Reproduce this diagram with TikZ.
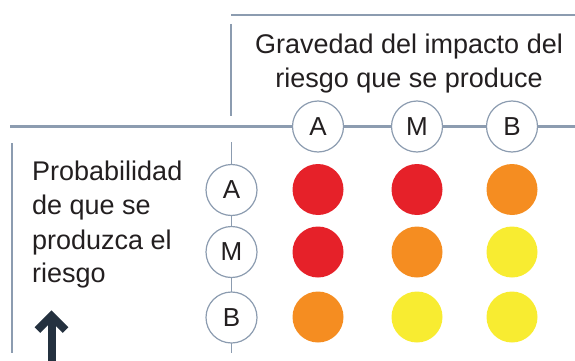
\documentclass[tikz,border=0pt]{standalone}
\usepackage{fontspec}
\setmainfont{Liberation Sans}
\definecolor{linec}{HTML}{8C9CB0}
\definecolor{txtc}{HTML}{231F20}
\definecolor{rojo}{HTML}{E62129}
\definecolor{naranja}{HTML}{F58D21}
\definecolor{amarillo}{HTML}{F8EC31}
\definecolor{flecha}{HTML}{24313F}
\tikzset{
  rule/.style={draw=linec, line width=2.6pt},
  vrule/.style={draw=linec, line width=1.6pt},
  lbl/.style={circle, draw=linec, line width=1.2pt, fill=white, minimum size=51pt, inner sep=0pt, font=\fontsize{26}{30}\selectfont, text=txtc},
  dot/.style={circle, minimum size=51pt, inner sep=0pt},
  txt/.style={inner sep=0pt, font=\fontsize{27}{33}\selectfont, text=txtc},
}
\begin{document}
\begin{tikzpicture}[x=1pt,y=-1pt]
\useasboundingbox (0,0) rectangle (575,361);
% rules
\coordinate (t1) at (231,15);
\coordinate (t2) at (575,15);
\coordinate (v1) at (231,24);
\coordinate (v2) at (231,116);
\coordinate (h1) at (10,126.5);
\coordinate (h2) at (575,126.5);
\coordinate (l1) at (12,143);
\coordinate (l2) at (12,353);
\coordinate (r1) at (231.5,142);
\coordinate (r2) at (231.5,353);
\draw[rule] (t1) -- (t2);
\draw[vrule] (v1) -- (v2);
\draw[rule] (h1) -- (h2);
\draw[vrule] (l1) -- (l2);
\draw[vrule] (r1) -- (r2);
% header text
\node[txt, anchor=base] (g1) at (409,54) {Gravedad del impacto del};
\node[txt, anchor=base] (g2) at (409,87) {riesgo que se produce};
% left text
\node[txt, anchor=base west] (p1) at (32,180) {Probabilidad};
\node[txt, anchor=base west] (p2) at (32,214) {de que se};
\node[txt, anchor=base west] (p3) at (32,249) {produzca el};
\node[txt, anchor=base west] (p4) at (32,282) {riesgo};
% column labels
\node[lbl] (cA) at (318,126.5) {A};
\node[lbl] (cM) at (417,126.5) {M};
\node[lbl] (cB) at (512,126.5) {B};
% row labels
\node[lbl] (rA) at (231.5,190) {A};
\node[lbl] (rM) at (231.5,252) {M};
\node[lbl] (rB) at (231.5,317.5) {B};
% dots
\node[dot, fill=rojo] (d11) at (318,189.5) {};
\node[dot, fill=rojo] (d12) at (417,189.5) {};
\node[dot, fill=naranja] (d13) at (512,189.5) {};
\node[dot, fill=rojo] (d21) at (318,252) {};
\node[dot, fill=naranja] (d22) at (417,252) {};
\node[dot, fill=amarillo] (d23) at (512,252) {};
\node[dot, fill=naranja] (d31) at (318,317) {};
\node[dot, fill=amarillo] (d32) at (417,317) {};
\node[dot, fill=amarillo] (d33) at (512,317) {};
% arrow
\coordinate (a0) at (51.5,361);
\coordinate (a1) at (51.5,318);
\coordinate (at) at (51.5,316);
\coordinate (aL) at (37.5,330);
\coordinate (aR) at (65.5,330);
\draw[flecha, line width=8pt] (a0) -- (a1);
\draw[flecha, line width=8pt, miter limit=10] (aL) -- (at) -- (aR);
\end{tikzpicture}
\end{document}
